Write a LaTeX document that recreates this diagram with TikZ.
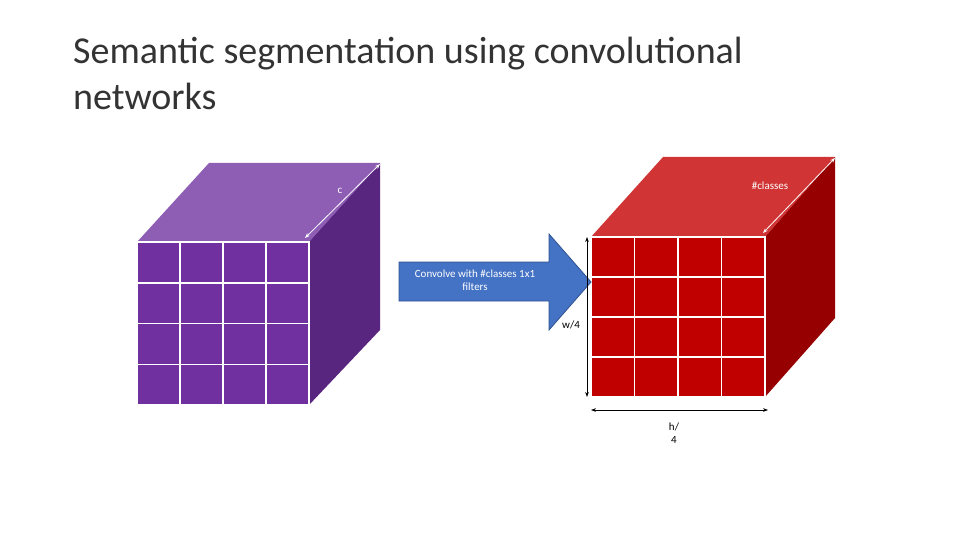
\documentclass[tikz,border=0pt]{standalone}
\usepackage{fontspec}
\setmainfont{Carlito}
\usetikzlibrary{arrows.meta,shapes.arrows}
\definecolor{pf}{HTML}{7030A0}\definecolor{pt}{HTML}{8E5EB5}\definecolor{ps}{HTML}{58257F}
\definecolor{rf}{HTML}{C00000}\definecolor{rt}{HTML}{D03434}\definecolor{rs}{HTML}{960000}
\definecolor{bl}{HTML}{4472C4}\definecolor{bd}{HTML}{2F528F}
\tikzset{dim/.style={{Stealth[length=5pt]}-{Stealth[length=5pt]},line width=0.8pt},
lbl/.style={font=\fontsize{11}{13}\selectfont,align=center}}
\begin{document}
\begin{tikzpicture}[x=1pt,y=-1pt]
\useasboundingbox (0,0) rectangle (960,540);
\node[anchor=north west,align=left,font=\fontsize{38}{46}\selectfont,text=black!80,inner sep=0] (title) at (73,37) {Semantic segmentation using convolutional\\networks};
% purple cube
\fill[pt] (137,242) -- (209,163) -- (380,163) -- (309,242) -- cycle;
\fill[ps] (309,242) -- (380,163) -- (380,330) -- (309,405) -- cycle;
\fill[pf] (137,242) rectangle (309,405);
\foreach \i in {1,2,3} {\draw[white,line width=1.5pt] (137+43*\i,242) -- (137+43*\i,405);
 \draw[white,line width=1.5pt] (137,242+40.75*\i) -- (309,242+40.75*\i);}
\draw[white,line width=1.5pt] (137,242) rectangle (309,405);
\coordinate (c1) at (305,238); \coordinate (c2) at (380,164);
\draw[dim,white] (c1) -- (c2);
\node[lbl,text=white] (c) at (340,191) {c};
% red cube
\fill[rt] (591,237) -- (663,157) -- (835,157) -- (765,237) -- cycle;
\fill[rs] (765,237) -- (835,157) -- (835,318) -- (765,397) -- cycle;
\fill[rf] (591,237) rectangle (765,397);
\foreach \i in {1,2,3} {\draw[white,line width=1.5pt] (591+43.5*\i,237) -- (591+43.5*\i,397);
 \draw[white,line width=1.5pt] (591,237+40*\i) -- (765,237+40*\i);}
\draw[white,line width=1.5pt] (591,237) rectangle (765,397);
\coordinate (r1) at (763,233); \coordinate (r2) at (835,158);
\draw[dim,white] (r1) -- (r2);
\node[lbl,text=white] (cls) at (770,186) {\#classes};
% blue arrow
\fill[bl,draw=bd,line width=0.8pt] (399,262) -- (549,262) -- (549,234) -- (591,282) -- (549,330) -- (549,301) -- (399,301) -- cycle;
\node[lbl,text=white] (conv) at (475,280) {Convolve with \#classes 1x1\\filters};
% dims
\coordinate (w1) at (587,237); \coordinate (w2) at (587,397);
\draw[dim] (w1) -- (w2);
\node[lbl,fill=white,inner sep=1pt] (w) at (571,325) {w/4};
\coordinate (h1) at (591,410); \coordinate (h2) at (768,410);
\draw[dim] (h1) -- (h2);
\node[lbl] (h) at (674,433) {h/\\4};
\end{tikzpicture}
\end{document}
